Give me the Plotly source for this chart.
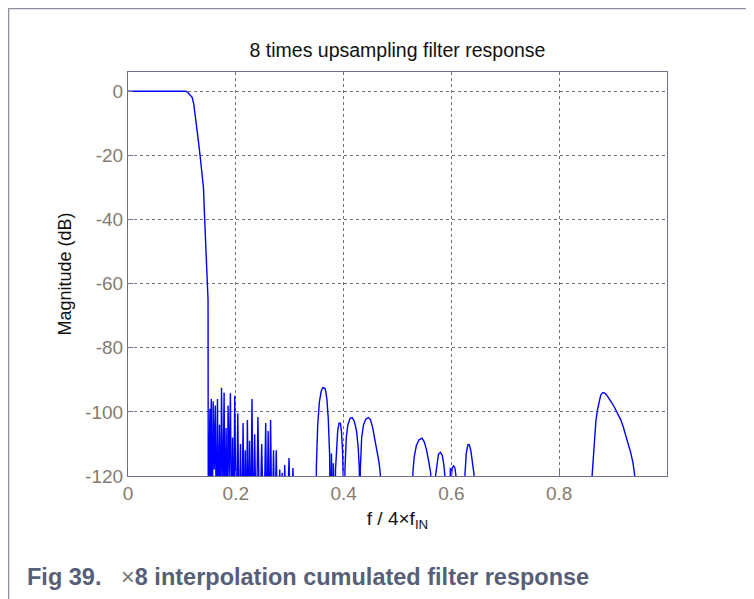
import plotly.graph_objects as go

# passband and transition band
pass_f = [0.0, 0.05, 0.107, 0.111, 0.115, 0.119, 0.122, 0.125, 0.128, 0.131,
          0.134, 0.137, 0.140, 0.1425, 0.1455, 0.1485, 0.1490]
pass_db = [0, 0, 0, -0.4, -1.0, -1.9, -4.0, -7.5, -11.5, -16,
           -20.5, -25, -30, -41, -52, -65, -140]

# dense stopband ripples
dense_f = [0.1520, 0.1532, 0.1545, 0.1562, 0.1580,
           0.1600, 0.1620, 0.1640, 0.1660, 0.1680,
           0.1698, 0.1716, 0.1735, 0.1760, 0.1783,
           0.1802, 0.1820, 0.1838, 0.1857, 0.1878,
           0.1900, 0.1920, 0.1940, 0.1960, 0.1980,
           0.2008, 0.2037, 0.2062, 0.2087, 0.2111,
           0.2135, 0.2155, 0.2175, 0.2195, 0.2215,
           0.2235, 0.2255, 0.2278, 0.2300, 0.2325,
           0.2350, 0.2380, 0.2410, 0.2445, 0.2480,
           0.2518, 0.2555, 0.2578, 0.2600, 0.2622,
           0.2645, 0.2672, 0.2700, 0.2725, 0.2750,
           0.2782, 0.2815, 0.2838, 0.2860, 0.2883,
           0.2907, 0.2947, 0.2987, 0.3023, 0.3060,
           0.3095]
dense_db = [-99, -125, -96, -140, -96.7,
            -118, -98, -140, -96, -140,
            -104, -140, -92.5, -130, -94,
            -140, -105, -140, -98, -120,
            -94.2, -140, -108, -140, -95,
            -140, -100.4, -140, -110, -140,
            -103.5, -140, -112, -140, -102.5,
            -140, -109, -140, -96, -140,
            -107, -140, -101.6, -140, -110,
            -140, -103.5, -140, -106, -140,
            -102.5, -140, -112, -140, -112,
            -140, -118, -140, -119, -140,
            -116.6, -140, -114.4, -140, -117.5,
            -140]

# isolated stopband lobes between 0.35 and 0.65
mid_f = [0.3490, 0.3495, 0.3520, 0.3550, 0.3585, 0.3617, 0.3660, 0.3690, 0.3715, 0.3740, 0.3760,
         0.3775, 0.3795, 0.3810, 0.3825,
         0.3835, 0.3850, 0.3870, 0.3890, 0.3915, 0.3940, 0.3960, 0.3980, 0.3995, 0.4005,
         0.4015, 0.4025, 0.4050, 0.4080, 0.4120, 0.4160, 0.4200, 0.4240, 0.4270, 0.4290, 0.4315,
         0.4305, 0.4310, 0.4335, 0.4370, 0.4415, 0.4460, 0.4500, 0.4540, 0.4580, 0.4620, 0.4660, 0.4690, 0.4715,
         0.5280, 0.5285, 0.5310, 0.5350, 0.5400, 0.5455, 0.5500, 0.5540, 0.5580, 0.5615, 0.5635,
         0.5700, 0.5705, 0.5730, 0.5760, 0.5795, 0.5830, 0.5860, 0.5880, 0.5895,
         0.5975, 0.5980, 0.6000, 0.6015, 0.6040, 0.6065, 0.6085, 0.6100,
         0.6245, 0.6250, 0.6275, 0.6305, 0.6330, 0.6360, 0.6390, 0.6420, 0.6445]
mid_db = [-140, -117, -104, -97, -93.5, -92.4, -92.8, -96, -102, -113, -140,
          -113, -140, -116, -140,
          -140, -118, -110, -106, -103.5, -103.5, -106, -112, -122, -140,
          -140, -118, -108, -104, -102, -101.8, -103, -106, -111, -117, -140,
          -140, -118, -108, -104, -102.2, -101.8, -102.5, -105, -108.5, -112, -116, -121, -140,
          -140, -119, -114, -110.5, -108.7, -108.2, -109.5, -112, -115.5, -119, -140,
          -140, -120, -116, -113.2, -112.6, -113.5, -116.5, -120, -140,
          -140, -117.5, -120, -117.5, -116.8, -117.5, -120, -140,
          -140, -120, -113, -110.3, -110.2, -112, -115.5, -119.5, -140]

# last lobe near 0.88
far_f = [0.8600, 0.8610, 0.8648, 0.8680, 0.8710, 0.8740, 0.8770, 0.8800, 0.8833, 0.8880,
         0.8926, 0.8970, 0.9019, 0.9080, 0.9143, 0.9190, 0.9235, 0.9280, 0.9328, 0.9370,
         0.9402, 0.9410, 1.0]
far_db = [-140, -120, -108.8, -103, -99.4, -96.5, -94.8, -94.1, -94.0, -94.7,
          -95.7, -97, -98.4, -100.3, -102.5, -104.8, -107.2, -109.8, -112.8, -116,
          -120, -140, -140]

x_ticks = [0, 0.2, 0.4, 0.6, 0.8]
x_labels = ["0", "0.2", "0.4", "0.6", "0.8"]
y_ticks = [0, -20, -40, -60, -80, -100, -120]
y_labels = ["0", "-20", "-40", "-60", "-80", "-100", "-120"]

freq = pass_f + dense_f + mid_f + far_f
mag = pass_db + dense_db + mid_db + far_db

fig = go.Figure()
fig.add_trace(go.Scatter(x=freq, y=mag, mode="lines",
                         line=dict(color="#0000ff", width=1.4), showlegend=False))

font = "Liberation Sans, Arial"
axis_col = "#6f6f8c"
grid = dict(showgrid=True, gridcolor="#70707e", gridwidth=1, griddash="3px,3px",
            showline=True, linecolor=axis_col, linewidth=1.2, mirror=True,
            ticks="inside", ticklen=5, tickcolor=axis_col, zeroline=False,
            tickfont=dict(family=font, size=19, color="#857b6e"))

fig.update_xaxes(range=[0, 1.0], tickvals=x_ticks, ticktext=x_labels, **grid,
                 title=dict(text="f / 4×f<sub>IN</sub>", standoff=8,
                            font=dict(family=font, size=19, color="#111")))
fig.update_yaxes(range=[-120, 6], tickvals=y_ticks, ticktext=y_labels, **grid,
                 title=dict(text="Magnitude (dB)", standoff=8,
                            font=dict(family=font, size=18, color="#111")))

# the page body adds 8px, so the figure is drawn 8px smaller
W, H = 746, 591
L, T, R, B = 120, 64, 87, 123
pw, ph = W - L - R, H - T - B

fig.update_layout(
    width=W, height=H,
    margin=dict(l=L, r=R, t=T, b=B),
    paper_bgcolor="white", plot_bgcolor="white",
    title=dict(text="8 times upsampling filter response", x=0.5, xanchor="center",
               xref="paper", y=1 - 42 / H, yanchor="middle",
               font=dict(family=font, size=19.5, color="#111")),
    shapes=[
        dict(type="line", xref="paper", yref="paper", x0=(0 - L) / pw, x1=(W - L) / pw,
             y0=(T + ph - 0.5) / ph, y1=(T + ph - 0.5) / ph,
             line=dict(color="#8c8ea0", width=1.5)),
        dict(type="line", xref="paper", yref="paper", x0=(0.5 - L) / pw, x1=(0.5 - L) / pw,
             y0=(T + ph) / ph, y1=-B / ph, line=dict(color="#8c8ea0", width=1.5)),
    ],
    annotations=[
        dict(text="<b>Fig 39.</b>\u00a0\u00a0\u00a0<span style='color:#777'>×</span><b>8 interpolation cumulated filter response</b>",
             xref="paper", yref="paper", x=(17 - L) / pw, y=(T + ph - 569) / ph,
             xanchor="left", yanchor="middle", showarrow=False,
             font=dict(family=font, size=23.5, color="#575e78")),
    ],
)

fig.write_html("out.html")
